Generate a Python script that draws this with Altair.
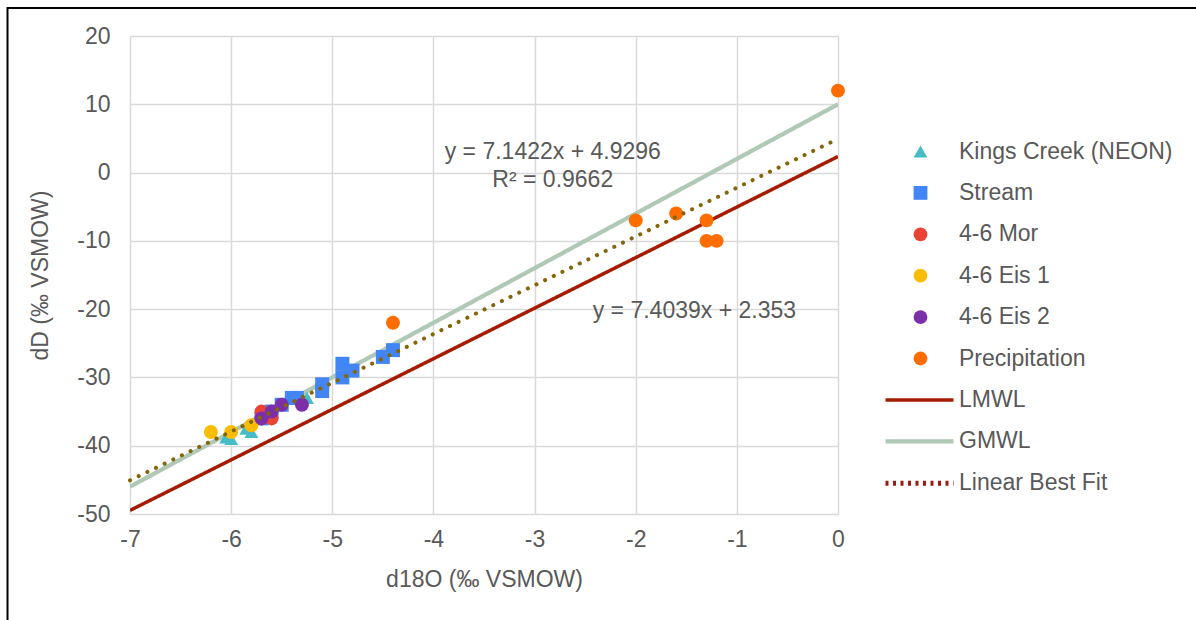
import altair as alt
import pandas as pd

# ---------------- data ----------------
kings_x = [-6.05, -6.0, -5.8, -5.85, -5.25]
kings_y = [-38.8, -39.0, -38.0, -37.5, -33.0]

stream_x = [-4.4, -4.5, -4.9, -4.8, -4.9, -5.1, -5.1, -5.35, -5.4, -5.5, -5.6, -5.7]
stream_y = [-26.0, -27.0, -28.0, -29.0, -30.0, -31.0, -32.0, -33.0, -33.0, -34.0, -35.0, -36.0]

mor_x = [-5.7, -5.6, -5.7]
mor_y = [-35.0, -36.0, -36.0]

eis1_x = [-6.2, -6.0, -5.8]
eis1_y = [-38.0, -38.0, -37.0]

eis2_x = [-5.7, -5.6, -5.5, -5.3]
eis2_y = [-36.0, -35.0, -34.0, -34.0]

precip_x = [0.0, -2.0, -1.6, -1.3, -1.3, -1.2, -4.4]
precip_y = [12.0, -7.0, -6.0, -7.0, -10.0, -10.0, -22.0]

series_names = ["Kings Creek (NEON)", "Stream", "4-6 Mor", "4-6 Eis 1", "4-6 Eis 2", "Precipitation"]
series_colors = ["#46BDC6", "#4285F4", "#EA4335", "#FBBC04", "#7B2FA8", "#FF6D01"]
series_shapes = ["triangle-up", "square", "circle", "circle", "circle", "circle"]

# lines: slope, intercept
line_names = ["LMWL", "GMWL", "Linear Best Fit"]
line_slopes = [7.4039, 8.0, 7.1422]
line_intercepts = [2.353, 10.0, 4.9296]
line_x_range = [-7.0, 0.0]

annot_text = ["y = 7.1422x + 4.9296", "R² = 0.9662", "y = 7.4039x + 2.353"]
annot_x = [-2.82, -2.82, -1.42]
annot_y = [3.0, -1.1, -20.3]

# ---------------- tables ----------------
rows = []
for name, xs, ys in zip(series_names,
                        [kings_x, stream_x, mor_x, eis1_x, eis2_x, precip_x],
                        [kings_y, stream_y, mor_y, eis1_y, eis2_y, precip_y]):
    for x, y in zip(xs, ys):
        rows.append({"series": name, "x": x, "y": y})
pts = pd.DataFrame(rows)

lrows = []
for name, m, b in zip(line_names, line_slopes, line_intercepts):
    for x in line_x_range:
        lrows.append({"line": name, "x": x, "y": m * x + b})
lines = pd.DataFrame(lrows)
mwl = lines[lines["line"] != "Linear Best Fit"]
fit = lines[lines["line"] == "Linear Best Fit"]

ann = pd.DataFrame({"t": annot_text, "x": annot_x, "y": annot_y})

FONT = "Liberation Sans"
GRAY = "#595959"
FS = 23

xscale = alt.Scale(domain=[-7, 0], nice=False)
yscale = alt.Scale(domain=[-50, 20], nice=False)

xaxis = alt.Axis(title="d18O (‰ VSMOW)", values=list(range(-7, 1)), labelFlush=False,
                 labelExpr="'' + datum.value", ticks=False, domain=False, labelPadding=14,
                 titlePadding=17, gridColor="#d9d9d9", gridWidth=1.5)
yaxis = alt.Axis(title="dD (‰ VSMOW)", values=list(range(-50, 21, 10)), labelFlush=False,
                 labelExpr="'' + datum.value", ticks=False, domain=False, labelPadding=20,
                 titlePadding=24, gridColor="#d9d9d9", gridWidth=1.5)
xenc = alt.X("x:Q", scale=xscale, axis=xaxis)
yenc = alt.Y("y:Q", scale=yscale, axis=yaxis)

# frame (top and left edges of the original picture border)
frame_top = alt.Chart(pd.DataFrame({"a": [0]})).mark_rule(color="black", strokeWidth=2).encode(
    x=alt.value(-123), x2=alt.value(1066), y=alt.value(-28))
frame_left = alt.Chart(pd.DataFrame({"a": [0]})).mark_rule(color="black", strokeWidth=2).encode(
    x=alt.value(-122.5), y=alt.value(-29), y2=alt.value(584))

line_legend = alt.Legend(title=None, orient="none", legendX=770, legendY=345,
                         symbolType="M-2,0H2", symbolSize=1156,
                         labelFontSize=FS, labelFont=FONT, labelColor=GRAY,
                         labelOffset=20, rowPadding=9.9, padding=0, labelLimit=300)

mwl_layer = alt.Chart(mwl).mark_line(clip=True).encode(
    x=xenc, y=yenc,
    stroke=alt.Stroke("line:N",
                      scale=alt.Scale(domain=line_names, range=["#A61C00", "#B0C8B6", "#9C1A10"]),
                      legend=line_legend),
    strokeDash=alt.StrokeDash("line:N",
                              scale=alt.Scale(domain=line_names, range=[[1, 0], [1, 0], [3, 4.5]]),
                              legend=line_legend),
    strokeWidth=alt.StrokeWidth("line:N",
                                scale=alt.Scale(domain=line_names, range=[3.5, 5, 3.5]),
                                legend=line_legend),
    detail="line:N",
)

pt_legend = alt.Legend(title=None, orient="none", legendX=779, legendY=104,
                       symbolSize=190, symbolStrokeWidth=0,
                       labelFontSize=FS, labelFont=FONT, labelColor=GRAY,
                       labelOffset=27, rowPadding=17.4, padding=0, labelLimit=300)

pt_layer = alt.Chart(pts).mark_point(filled=True, size=195, opacity=1).encode(
    x=xenc, y=yenc,
    fill=alt.Fill("series:N", scale=alt.Scale(domain=series_names, range=series_colors),
                  legend=pt_legend),
    shape=alt.Shape("series:N", scale=alt.Scale(domain=series_names, range=series_shapes),
                    legend=pt_legend),
)

fit_layer = alt.Chart(fit).mark_line(color="#85650A", strokeDash=[0.1, 9.5], strokeWidth=4,
                                     strokeCap="round").encode(x=xenc, y=yenc)

text_layer = alt.Chart(ann).mark_text(fontSize=FS, font=FONT, color=GRAY,
                                      align="center", baseline="middle").encode(
    x=xenc, y=yenc, text="t:N")

chart = alt.layer(frame_top, frame_left, mwl_layer, pt_layer, fit_layer, text_layer).properties(
    width=708, height=478,
    autosize=alt.AutoSizeParams(type="none"),
    padding={"left": 130, "top": 36, "right": 358, "bottom": 106},
).configure_view(stroke=None).configure_axis(
    labelFont=FONT, labelFontSize=FS, labelColor=GRAY,
    titleFont=FONT, titleFontSize=FS, titleColor=GRAY, titleFontWeight="normal",
)

chart.save("out.html", embed_options={"renderer": "svg", "actions": False})
